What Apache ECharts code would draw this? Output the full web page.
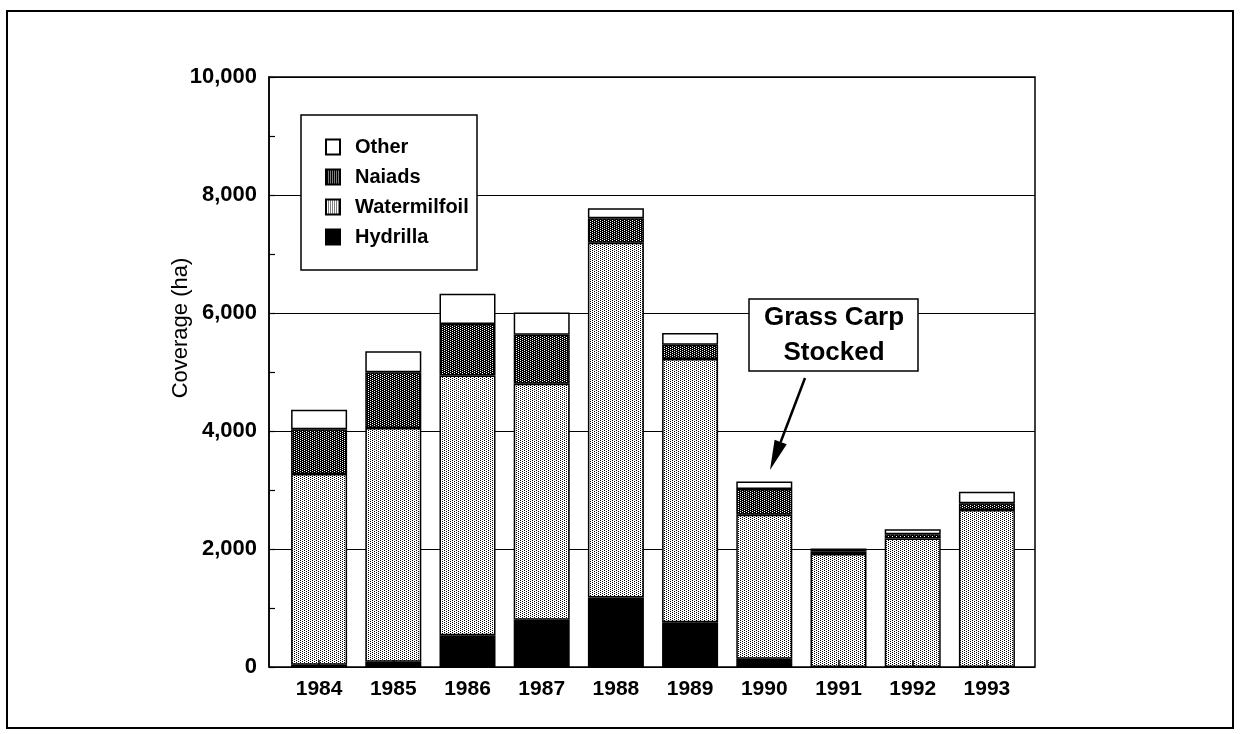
<!DOCTYPE html>
<html>
<head>
<meta charset="utf-8">
<script src="https://cdn.jsdelivr.net/npm/echarts@6/dist/echarts.min.js"></script>
<style>html,body{margin:0;padding:0;background:#fff;}#c{width:1240px;height:734px;}</style>
</head>
<body>
<div id="c"></div>
<script>
const categories = ['1984','1985','1986','1987','1988','1989','1990','1991','1992','1993'];
const hydrilla     = [40, 90, 540, 800, 1180, 760, 140, 0, 0, 0];
const watermilfoil = [3230, 3960, 4400, 4000, 6010, 4460, 2440, 1915, 2180, 2660];
const naiads       = [760, 945, 875, 830, 415, 240, 435, 45, 70, 115];
const other        = [330, 355, 510, 380, 170, 200, 130, 50, 85, 195];
const yMin = 0, yMax = 10000, yStep = 2000;
const legendOrder = ['Other','Naiads','Watermilfoil','Hydrilla'];
const yTitle = 'Coverage (ha)';
const noteText = 'Grass Carp\nStocked';

const FONT = '"Liberation Sans", Arial, sans-serif';

function makePattern(bg, fg) {
  const c = document.createElement('canvas');
  c.width = 4; c.height = 4;
  const ctx = c.getContext('2d');
  ctx.fillStyle = bg; ctx.fillRect(0, 0, 4, 4);
  ctx.fillStyle = fg;
  for (let y = 0; y < 4; y++) for (let x = 0; x < 4; x++) {
    if ((x + 2 * y) % 4 === 0) ctx.fillRect(x, y, 1, 1);
  }
  return c;
}
const lightPat = { image: makePattern('#ffffff', '#000000'), repeat: 'repeat' };
const darkPat = { image: makePattern('#000000', '#ffffff'), repeat: 'repeat' };

const chart = echarts.init(document.getElementById('c'), null, { renderer: 'canvas' });

function barSeries(name, data, color) {
  return {
    name, type: 'bar', stack: 'total', data,
    xAxisIndex: 1, yAxisIndex: 1, barWidth: 56,
    itemStyle: { color, borderColor: '#000', borderWidth: 1.5 },
    emphasis: { disabled: true },
    animation: false
  };
}

// arrow geometry for the annotation
const tip = [770, 470], tail = [805, 378];
const dx = tip[0] - tail[0], dy = tip[1] - tail[1];
const len = Math.hypot(dx, dy), ux = dx / len, uy = dy / len;
const hl = 30, hw = 6.5;
const base = [tip[0] - hl * ux, tip[1] - hl * uy];
const px = -uy, py = ux;

chart.setOption({
  animation: false,
  backgroundColor: '#fff',
  textStyle: { fontFamily: FONT },
  grid: [
    { left: 269, right: 205, top: 77, bottom: 67, show: true, borderColor: '#000', borderWidth: 1.5, backgroundColor: 'transparent' },
    { left: 282, right: 216, top: 77, bottom: 67 }
  ],
  xAxis: [
    { type: 'value', gridIndex: 0, show: false, min: 0, max: 1 },
    {
      type: 'category', gridIndex: 1, data: categories, z: 5,
      axisLine: { show: false },
      axisTick: { show: true, inside: true, alignWithLabel: true, length: 7, lineStyle: { color: '#000', width: 1.5 } },
      axisLabel: { color: '#000', fontSize: 21, fontWeight: 'bold', fontFamily: FONT, margin: 12 }
    }
  ],
  yAxis: [
    {
      type: 'value', gridIndex: 0, min: yMin, max: yMax, interval: yStep,
      axisLine: { show: true, lineStyle: { color: '#000', width: 1.5 } },
      axisTick: { show: true, inside: true, length: 6, lineStyle: { color: '#000', width: 1.2 } },
      minorTick: { show: true, splitNumber: 2, length: 6, lineStyle: { color: '#000', width: 1.2 } },
      splitLine: { show: true, lineStyle: { color: '#000', width: 1.2 } },
      axisLabel: { color: '#000', fontSize: 22, fontWeight: 'bold', fontFamily: FONT, margin: 12,
        formatter: v => v.toLocaleString('en-US') }
    },
    { type: 'value', gridIndex: 1, min: yMin, max: yMax, show: false }
  ],
  legend: {
    data: legendOrder, orient: 'vertical', left: 325, top: 137, padding: 0,
    icon: 'rect',
    itemWidth: 14, itemHeight: 15, itemGap: 10, z: 10, selectedMode: false,
    textStyle: { color: '#000', fontSize: 20, fontWeight: 'bold', fontFamily: FONT, lineHeight: 20, padding: [0, 0, 0, 10] }
  },
  series: [
    barSeries('Hydrilla', hydrilla, '#000'),
    barSeries('Watermilfoil', watermilfoil, lightPat),
    barSeries('Naiads', naiads, darkPat),
    barSeries('Other', other, '#fff')
  ],
  graphic: [
    { type: 'rect', z: 0, shape: { x: 7, y: 11, width: 1226, height: 717 }, style: { fill: 'none', stroke: '#000', lineWidth: 2 } },
    { type: 'rect', z: 5, shape: { x: 301, y: 115, width: 176, height: 155 }, style: { fill: '#fff', stroke: '#000', lineWidth: 1.5 } },
    { type: 'rect', z: 5, shape: { x: 749, y: 299, width: 169, height: 72 }, style: { fill: '#fff', stroke: '#000', lineWidth: 1.5 } },
    { type: 'text', z: 6, x: 834, y: 335, style: { text: noteText, fill: '#000', font: 'bold 26px ' + FONT, textAlign: 'center', textVerticalAlign: 'middle', lineHeight: 35 } },
    { type: 'line', z: 6, shape: { x1: tail[0], y1: tail[1], x2: base[0], y2: base[1] }, style: { stroke: '#000', lineWidth: 2.5 } },
    { type: 'polygon', z: 6, shape: { points: [tip, [base[0] + hw * px, base[1] + hw * py], [base[0] - hw * px, base[1] - hw * py]] }, style: { fill: '#000' } },
    { type: 'text', z: 6, x: 181, y: 328, rotation: Math.PI / 2, style: { text: yTitle, fill: '#000', font: '22px ' + FONT, textAlign: 'center', textVerticalAlign: 'middle' } }
  ]
});
</script>
</body>
</html>
